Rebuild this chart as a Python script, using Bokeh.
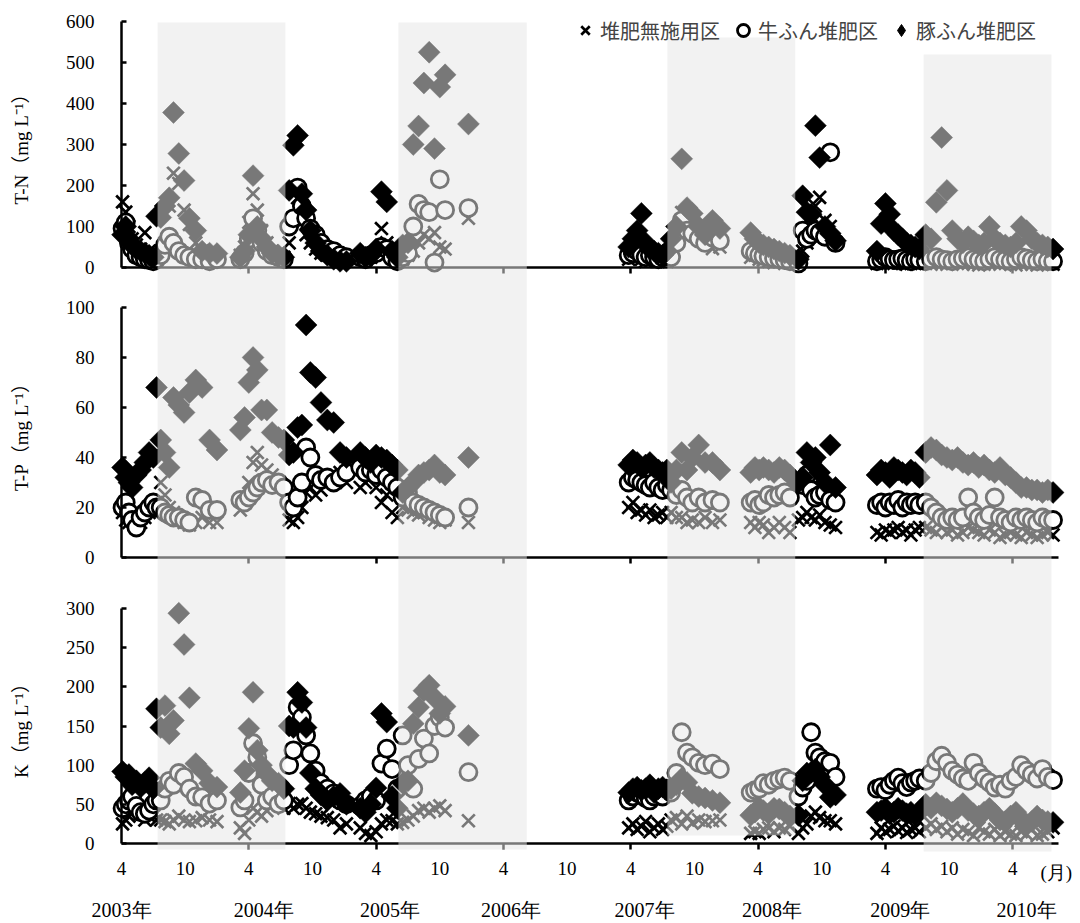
import math
from bokeh.plotting import figure
from bokeh.models import (Range1d, LinearAxis, FixedTicker, BoxAnnotation,
                          Legend, LegendItem, ColumnDataSource, LabelSet, Label)
from bokeh.embed import file_html
from bokeh.resources import INLINE

# ---------------- data ----------------
# sampling dates, in months counted from 1 April 2003
MONTHS = (
    [0.1, 0.4, 0.7, 1.0, 1.4, 1.8, 2.2, 2.6, 3.0, 3.3]
    + [3.7, 4.1, 4.5, 4.9, 5.4, 5.9, 6.4, 7.0, 7.6, 8.3, 9.0]
    + [11.2, 11.6, 12.0, 12.4, 12.8, 13.2, 13.7, 14.2, 14.8, 15.3]
    + [15.8, 16.2, 16.6, 17.0, 17.4, 17.8, 18.3, 18.8, 19.4, 20.0, 20.6, 21.2]
    + [22.5, 23.0, 23.5, 24.0, 24.5, 25.0, 25.5, 26.0]
    + [26.5, 27.0, 27.5, 28.0, 28.5, 29.0, 29.5, 30.0, 30.5, 32.7]
    + [47.8, 48.2, 48.6, 49.0, 49.4, 49.8, 50.2, 50.6, 51.0, 51.4]
    + [51.8, 52.3, 52.8, 53.3, 53.8, 54.4, 55.0, 55.7, 56.4]
    + [59.3, 59.7, 60.1, 60.5, 61.0, 61.5, 62.0, 62.5, 63.0]
    + [63.8, 64.2, 64.6, 65.0, 65.4, 65.8, 66.3, 66.8, 67.3]
    + [71.2, 71.6, 72.0, 72.4, 72.8, 73.2, 73.6, 74.0, 74.4, 74.8, 75.2]
    + [75.8, 76.3, 76.8, 77.3, 77.8, 78.3, 78.8, 79.3, 79.8, 80.3, 80.8, 81.3,
       81.8, 82.3, 82.8, 83.3, 83.8, 84.3, 84.8, 85.3, 85.8, 86.3, 86.8, 87.3, 87.8]
)

# T-N (mg/L)
TN_NONE = (
    [160, 135, 100, 70, 55, 45, 85, 40, 30, 25]
    + [40, 60, 150, 230, 205, 140, 105, 60, 40, 30, 25]
    + [30, 50, 110, 180, 140, 90, 60, 40, 30, 25]
    + [60, 120, 170, 110, 80, 60, 45, 35, 30, 25, 20, 20]
    + [30, 20, 25, 40, 95, 60, 30, 20]
    + [20, 30, 40, 60, 80, 70, 85, 50, 45, 120]
    + [20, 25, 30, 20, 15, 20, 25, 15, 20, 15]
    + [40, 80, 134, 110, 90, 70, 60, 46, 50]
    + [25, 30, 20, 18, 15, 12, 15, 10, 12]
    + [15, 40, 60, 100, 150, 171, 115, 100, 60]
    + [10, 12, 15, 12, 10, 12, 10, 8, 10, 12, 10]
    + [10, 8, 12, 10, 8, 10, 12, 8, 10, 8, 6, 8, 10, 12, 8, 10, 8, 6, 8, 10, 8, 6, 8, 10, 8]
)
TN_COW = (
    [95, 110, 60, 45, 30, 25, 20, 18, 15, 20]
    + [30, 55, 75, 60, 40, 30, 25, 20, 20, 15, 20]
    + [20, 35, 70, 120, 90, 60, 40, 30, 25, 20]
    + [100, 120, 195, 150, 120, 95, 80, 60, 45, 40, 30, 25]
    + [25, 20, 30, 35, 50, 45, 25, 15]
    + [25, 35, 100, 155, 140, 135, 12, 215, 140, 145]
    + [30, 35, 40, 30, 25, 30, 25, 20, 25, 30]
    + [25, 60, 115, 90, 83, 70, 60, 73, 65]
    + [40, 35, 30, 28, 25, 22, 20, 18, 15]
    + [10, 90, 70, 80, 90, 85, 75, 281, 60]
    + [15, 20, 25, 20, 18, 20, 22, 18, 15, 20, 18]
    + [15, 20, 25, 20, 18, 15, 20, 22, 25, 20, 18, 15, 20, 25, 20, 18, 15, 20, 25, 22, 18, 15, 20, 15, 15]
)
TN_PIG = (
    [80, 100, 70, 55, 45, 40, 35, 30, 25, 125]
    + [122, 150, 170, 378, 278, 212, 120, 90, 40, 35, 34]
    + [25, 40, 80, 224, 100, 70, 50, 35, 30, 25]
    + [188, 298, 322, 180, 140, 90, 60, 40, 30, 20, 15, 15]
    + [35, 25, 30, 45, 185, 160, 40, 25]
    + [55, 60, 300, 345, 450, 525, 290, 440, 470, 350]
    + [50, 70, 90, 132, 60, 45, 40, 35, 30, 40]
    + [70, 100, 265, 146, 132, 100, 80, 115, 95]
    + [85, 70, 60, 55, 50, 45, 40, 35, 30]
    + [20, 175, 135, 130, 346, 268, 100, 83, 65]
    + [40, 107, 156, 130, 90, 80, 70, 60, 55, 50, 45]
    + [80, 70, 159, 317, 188, 90, 70, 60, 75, 65, 55, 60, 100, 70, 60, 55, 50, 60, 100, 90, 70, 60, 55, 50, 45]
)

# T-P (mg/L)
TP_NONE = (
    [18, 15, 14, 16, 12, 14, 16, 18, 20, 22]
    + [30, 25, 20, 18, 15, 14, 13, 14, 16, 14, 14]
    + [19, 22, 30, 38, 42, 37, 35, 33, 30, 28]
    + [15, 14, 16, 20, 26, 28, 25, 27, 30, 32, 34, 30]
    + [28, 30, 32, 28, 22, 25, 18, 16]
    + [20, 19, 18, 17, 18, 16, 15, 14, 15, 14]
    + [20, 22, 18, 19, 17, 19, 16, 17, 18, 16]
    + [18, 16, 16, 14, 15, 14, 16, 14, 15]
    + [14, 12, 14, 13, 10, 12, 14, 12, 10]
    + [15, 16, 18, 16, 15, 17, 14, 13, 12]
    + [10, 9, 11, 10, 11, 12, 10, 11, 9, 11, 12]
    + [12, 11, 10, 12, 10, 11, 9, 10, 12, 11, 10, 9, 11, 10, 8, 9, 10, 9, 8, 10, 9, 8, 9, 10, 9]
)
TP_COW = (
    [20, 22, 18, 15, 12, 16, 18, 20, 22, 20]
    + [20, 18, 17, 16, 16, 15, 14, 24, 23, 19, 19]
    + [23, 22, 24, 26, 28, 30, 31, 29, 30, 28]
    + [22, 20, 24, 30, 44, 40, 33, 31, 32, 30, 32, 34]
    + [36, 34, 35, 33, 35, 32, 30, 28]
    + [24, 26, 22, 21, 20, 19, 18, 17, 16, 20]
    + [30, 32, 31, 30, 29, 28, 30, 28, 27, 29]
    + [27, 25, 27, 24, 22, 24, 22, 23, 22]
    + [22, 23, 21, 22, 25, 24, 25, 26, 24]
    + [30, 29, 33, 27, 24, 25, 26, 23, 22]
    + [21, 22, 20, 22, 21, 23, 20, 22, 21, 22, 21]
    + [22, 20, 18, 16, 15, 16, 15, 16, 24, 18, 16, 15, 17, 24, 16, 15, 14, 16, 15, 16, 15, 14, 16, 15, 15]
)
TP_PIG = (
    [36, 32, 30, 28, 33, 35, 38, 42, 40, 68]
    + [47, 42, 36, 64, 61, 58, 66, 71, 68, 47, 43]
    + [51, 56, 70, 80, 75, 59, 59, 50, 48, 47]
    + [41, 42, 52, 53, 93, 74, 72, 62, 55, 54, 42, 40]
    + [42, 40, 38, 41, 40, 39, 37, 35]
    + [26, 28, 30, 33, 34, 35, 37, 34, 33, 40]
    + [37, 39, 38, 36, 37, 38, 36, 35, 34, 35]
    + [30, 35, 42, 35, 40, 45, 38, 38, 35]
    + [34, 36, 35, 36, 35, 34, 36, 35, 33]
    + [30, 32, 42, 38, 40, 34, 30, 45, 28]
    + [33, 35, 34, 32, 36, 35, 34, 33, 35, 34, 32]
    + [42, 44, 43, 41, 40, 39, 40, 38, 37, 38, 36, 37, 35, 34, 36, 33, 32, 30, 28, 28, 27, 27, 26, 27, 26]
)

# K (mg/L)
K_NONE = (
    [25, 30, 35, 40, 45, 38, 30, 35, 40, 30]
    + [30, 28, 25, 30, 35, 30, 28, 29, 33, 30, 28]
    + [20, 13, 30, 45, 40, 35, 42, 48, 51, 45]
    + [51, 45, 50, 51, 45, 40, 38, 35, 33, 30, 20, 25]
    + [20, 13, 10, 15, 25, 30, 29, 25]
    + [27, 30, 35, 42, 45, 40, 45, 48, 42, 29]
    + [20, 25, 18, 22, 28, 15, 20, 25, 18, 22]
    + [30, 33, 25, 35, 26, 30, 28, 29, 30]
    + [13, 15, 13, 18, 20, 15, 20, 18, 22]
    + [13, 20, 25, 35, 40, 33, 29, 29, 25]
    + [13, 20, 15, 18, 22, 16, 20, 14, 18, 20, 15]
    + [20, 25, 18, 22, 15, 20, 12, 18, 15, 10, 20, 15, 12, 18, 10, 15, 12, 10, 15, 12, 18, 10, 12, 15, 20]
)
K_COW = (
    [45, 50, 55, 60, 48, 40, 38, 42, 50, 55]
    + [55, 70, 80, 75, 90, 85, 70, 60, 59, 51, 55]
    + [46, 55, 90, 128, 110, 75, 55, 60, 50, 55]
    + [100, 119, 174, 161, 138, 115, 93, 77, 70, 64, 55, 50]
    + [48, 55, 60, 55, 102, 121, 95, 70]
    + [138, 100, 70, 108, 134, 115, 150, 161, 148, 91]
    + [55, 60, 65, 62, 58, 55, 60, 65, 60, 70]
    + [65, 90, 142, 116, 110, 103, 100, 102, 95]
    + [65, 68, 70, 77, 75, 80, 82, 84, 80]
    + [60, 71.5, 80, 142, 116, 110, 105, 103, 85]
    + [70, 72, 68, 75, 80, 84, 77, 72, 78, 80, 83]
    + [80, 90, 105, 112, 103, 93, 88, 83, 80, 103, 90, 83, 78, 71.5, 75, 70, 80, 85, 100, 93, 88, 83, 95, 85, 81]
)
K_PIG = (
    [92, 85, 88, 75, 80, 72, 78, 84, 70, 172]
    + [148, 176, 140, 157, 294, 254, 186, 102, 93, 77, 72]
    + [65, 93, 147, 193, 119, 100, 89, 80, 77, 70]
    + [150, 148, 193, 180, 148, 90, 70, 62, 55, 60, 64, 50]
    + [45, 40, 50, 71, 166, 155, 60, 45]
    + [77, 80, 153, 174, 195, 202, 186, 166, 175, 138]
    + [65, 70, 72, 68, 70, 75, 65, 70, 72, 68]
    + [70, 75, 83, 78, 64, 60, 58, 55, 52]
    + [36, 40, 46, 42, 38, 45, 44, 40, 35]
    + [36, 80, 90, 91, 95, 85, 75, 59, 62]
    + [40, 42, 45, 38, 40, 45, 42, 38, 40, 36, 40]
    + [50, 45, 52, 48, 44, 40, 45, 51, 42, 38, 35, 40, 45, 38, 30, 28, 35, 40, 30, 25, 28, 35, 30, 28, 27]
)

SERIES_NAMES = ["堆肥無施用区", "牛ふん堆肥区", "豚ふん堆肥区"]
PANEL_LABELS = ["T-N（mg L⁻¹）", "T-P（mg L⁻¹）", "K（mg L⁻¹）"]
PANEL_TOPS = [600, 100, 300]
PANEL_STEPS = [100, 20, 50]

# x-axis ticks (month index), labels
MONTH_TICKS = [0, 6, 12, 18, 24, 30, 36, 42, 48, 54, 60, 66, 72, 78, 84]
MONTH_LABELS = ["4", "10", "4", "10", "4", "10", "4", "10", "4", "10", "4", "10", "4", "10", "4"]
YEAR_TICKS = [12, 24, 36, 48, 60, 72, 84]
YEAR_POS = [0, 13.4, 25.3, 36.7, 49.3, 61.3, 73.4, 85.3]
YEAR_LABELS = ["2003年", "2004年", "2005年", "2006年", "2007年", "2008年", "2009年", "2010年"]
UNIT_POS = 88.1
UNIT_LABEL = "(月)"

# shaded periods (months)
BAND_START = [3.4, 26.1, 51.45, 75.6]
BAND_END = [15.45, 38.2, 63.5, 87.65]

# ---------------- layout (reference pixel geometry) ----------------
W, H = 1080, 923
AXIS_LEFT, AXIS_RIGHT = 121, 1058    # x of April 2003 and of the axis end
PX_PER_MONTH = 10.61
X_END = (AXIS_RIGHT - AXIS_LEFT) / PX_PER_MONTH


def panel_range(top_val, top_px, zero_px):
    k = top_val / (zero_px - top_px)
    return Range1d(start=-(H - zero_px) * k, end=top_val + top_px * k)


def tn_at(px):
    return (267 - px) * 600 / (267 - 21)


p = figure(width=W, height=H, output_backend="svg", toolbar_location=None,
           x_range=Range1d(-AXIS_LEFT / PX_PER_MONTH, (W - AXIS_LEFT) / PX_PER_MONTH),
           y_range=panel_range(600, 21, 267),
           x_axis_type=None, y_axis_type=None,
           min_border_left=0, min_border_right=0, min_border_top=0, min_border_bottom=0)
p.extra_y_ranges = {"tp": panel_range(100, 307, 557), "k": panel_range(300, 608, 843)}
p.outline_line_color = None
p.background_fill_color = "white"
p.border_fill_color = "white"

NUM_FONT = "'Liberation Serif', 'Noto Sans CJK JP'"
FS = "19px"

RNAMES = ["default", "tp", "k"]
panels = [(TN_NONE, TN_COW, TN_PIG), (TP_NONE, TP_COW, TP_PIG), (K_NONE, K_COW, K_PIG)]
legend_renderers = None
for rname, (none_v, cow_v, pig_v) in zip(RNAMES, panels):
    src = ColumnDataSource(dict(month=MONTHS, none=none_v, cow=cow_v, pig=pig_v))
    rx = p.scatter("month", "none", source=src, marker="x", size=18,
                   line_color="black", line_width=2.7, y_range_name=rname)
    ro = p.scatter("month", "cow", source=src, marker="circle", size=17,
                   fill_color="white", line_color="black", line_width=2.8, y_range_name=rname)
    p.scatter("month", "pig", source=src, marker="square", angle=math.pi / 4, size=15.5,
              fill_color="black", line_color="black", line_width=0.5, y_range_name=rname)
    if legend_renderers is None:
        # hidden proxy so the legend shows an upright diamond
        rd_leg = p.scatter("month", "pig", source=src, marker="diamond", size=16,
                           fill_color="black", line_color="black", visible=False)
        legend_renderers = (rx, ro, rd_leg)

# y axes (lines + ticks) with labels
for rname, top, step, label in zip(RNAMES, PANEL_TOPS, PANEL_STEPS, PANEL_LABELS):
    ticks = list(range(0, top + 1, step))
    ax = LinearAxis(y_range_name=rname, fixed_location=0, bounds=(0, top),
                    ticker=FixedTicker(ticks=ticks))
    ax.axis_line_width = 2.5
    ax.major_tick_in = 5
    ax.major_tick_out = 0
    ax.major_tick_line_width = 2.5
    ax.minor_tick_line_color = None
    ax.major_label_text_color = None
    p.add_layout(ax, "left")

    lsrc = ColumnDataSource(dict(x=[0] * len(ticks), y=ticks, t=[str(v) for v in ticks]))
    p.add_layout(LabelSet(x="x", y="y", text="t", source=lsrc, y_range_name=rname,
                          x_offset=-27, text_align="right", text_baseline="middle",
                          text_font=NUM_FONT, text_font_size=FS, text_color="black"))
    p.add_layout(Label(x=0, y=top / 2, y_range_name=rname, text=label, angle=math.pi / 2,
                       x_offset=-100, text_align="center", text_baseline="middle",
                       text_font=NUM_FONT, text_font_size=FS, text_color="black"))

# x axis lines with yearly ticks
for rname in RNAMES:
    xa = LinearAxis(y_range_name=rname, fixed_location=0, bounds=(0, X_END),
                    ticker=FixedTicker(ticks=YEAR_TICKS))
    xa.axis_line_width = 2.5
    xa.major_tick_out = 6
    xa.major_tick_in = 0
    xa.major_tick_line_width = 2.5
    xa.major_label_text_color = None
    xa.minor_tick_line_color = None
    p.add_layout(xa, "below")

# month labels, unit and year labels under the bottom panel
msrc = ColumnDataSource(dict(x=MONTH_TICKS + [UNIT_POS], y=[0] * (len(MONTH_TICKS) + 1),
                             t=MONTH_LABELS + [UNIT_LABEL]))
p.add_layout(LabelSet(x="x", y="y", text="t", source=msrc, y_range_name="k",
                      y_offset=-18, text_align="center", text_baseline="top",
                      text_font=NUM_FONT, text_font_size=FS, text_color="black"))
ysrc = ColumnDataSource(dict(x=YEAR_POS, y=[0] * len(YEAR_POS), t=YEAR_LABELS))
p.add_layout(LabelSet(x="x", y="y", text="t", source=ysrc, y_range_name="k",
                      y_offset=-55, text_align="center", text_baseline="top",
                      text_font=NUM_FONT, text_font_size="20px", text_color="black"))

# shaded periods drawn as translucent overlays
band_tops = [tn_at(22), tn_at(22), tn_at(37), tn_at(54)]
band_bottoms = [tn_at(849), tn_at(849), tn_at(835), tn_at(851)]
for s, e, t, b in zip(BAND_START, BAND_END, band_tops, band_bottoms):
    p.add_layout(BoxAnnotation(left=s, right=e, top=t, bottom=b,
                               fill_color="#e6e6e6", fill_alpha=0.52, line_color=None))

legend = Legend(items=[LegendItem(label=n, renderers=[r])
                       for n, r in zip(SERIES_NAMES, legend_renderers)],
                orientation="horizontal", location=(570, H - 48),
                label_text_font="'Noto Sans CJK JP'", label_text_font_size="20px",
                glyph_width=30, glyph_height=36, label_standoff=0, spacing=8,
                padding=0, margin=0, background_fill_alpha=0, border_line_color=None,
                inactive_fill_alpha=0)
p.add_layout(legend)

open("out.html", "w").write(file_html(p, INLINE))
